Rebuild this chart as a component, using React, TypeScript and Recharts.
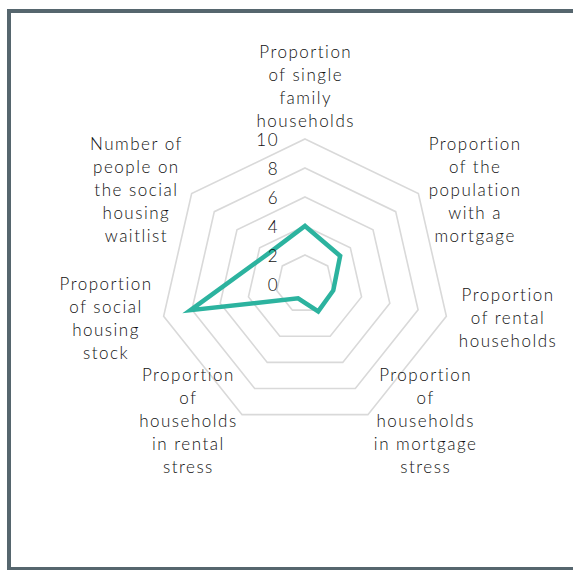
import React from 'react';
import { RadarChart, Radar, PolarGrid, PolarAngleAxis, PolarRadiusAxis } from 'recharts';

const categories = ['singleFamily', 'mortgage', 'rental', 'mortgageStress', 'rentalStress', 'socialStock', 'waitlist'];
const categoryLabels: string[][] = [
  ['Proportion', 'of single', 'family', 'households'],
  ['Proportion', 'of the', 'population', 'with a', 'mortgage'],
  ['Proportion', 'of rental', 'households'],
  ['Proportion', 'of', 'households', 'in mortgage', 'stress'],
  ['Proportion', 'of', 'households', 'in rental', 'stress'],
  ['Proportion', 'of social', 'housing', 'stock'],
  ['Number of', 'people on', 'the social', 'housing', 'waitlist'],
];
const values = [4, 3.1, 2, 2.1, 1.1, 8.1, 3.3];
const radiusTicks = [0, 2, 4, 6, 8, 10];

const data = categories.map((c, i) => ({ axis: c, value: values[i] }));

const W = 573;
const H = 570;
const CX = 305;
const CY = 284;
const R = 145;
const FONT_FAMILY = 'Lato, "Open Sans", sans-serif';
const FONT_WEIGHT = 300;
const FONT_SIZE = 17;
const LETTER_SPACING = 1.5;
const LINE_H = 23;
const TEXT_COLOR = '#111111';

let ctx: CanvasRenderingContext2D | null = null;
function measure(s: string): number {
  if (!ctx) ctx = document.createElement('canvas').getContext('2d');
  if (!ctx) return s.length * 9;
  ctx.font = `${FONT_WEIGHT} ${FONT_SIZE}px ${FONT_FAMILY}`;
  return ctx.measureText(s).width + LETTER_SPACING * s.length;
}

const AngleTick = (props: any) => {
  const { payload } = props;
  const idx = categories.indexOf(payload.value);
  const lines = categoryLabels[idx] || [];
  const a = (payload.coordinate * Math.PI) / 180;
  const rr = R + 12;
  const px = CX + rr * Math.cos(a);
  const py = CY - rr * Math.sin(a);
  const w = Math.max(...lines.map(measure));
  const c = Math.cos(a);
  const s = Math.sin(a);
  let centerX = px;
  if (c > 0.1) centerX = px + w / 2;
  else if (c < -0.1) centerX = px - w / 2;
  const n = lines.length;
  let firstY = py - ((n - 1) * LINE_H) / 2 + 5 * s;
  if (s > 0.9) firstY = py - 7 - (n - 1) * LINE_H;
  return (
    <text
      textAnchor="middle"
      fill={TEXT_COLOR}
      style={{ fontFamily: FONT_FAMILY, fontWeight: FONT_WEIGHT, fontSize: FONT_SIZE, letterSpacing: LETTER_SPACING }}
    >
      {lines.map((l, i) => (
        <tspan key={i} x={centerX + LETTER_SPACING / 2} y={firstY + i * LINE_H} dominantBaseline="central">
          {l}
        </tspan>
      ))}
    </text>
  );
};

const RadiusTick = (props: any) => {
  const { x, y, payload } = props;
  return (
    <text
      x={x - 26}
      y={y}
      textAnchor="end"
      dominantBaseline="central"
      fill={TEXT_COLOR}
      style={{ fontFamily: FONT_FAMILY, fontWeight: FONT_WEIGHT, fontSize: FONT_SIZE, letterSpacing: LETTER_SPACING }}
    >
      {payload.value}
    </text>
  );
};

export default function App() {
  return (
    <div>
      <style>{`html,body{margin:0;padding:0;overflow:hidden;}`}</style>
      <div
        style={{
          position: 'absolute',
          left: 7,
          top: 9,
          width: 600,
          height: 554,
          border: '4px solid #56666e',
        }}
      />
      <div style={{ position: 'absolute', left: 0, top: 0, width: W, height: H }}>
        <RadarChart width={W} height={H} data={data} cx={CX} cy={CY} outerRadius={R} margin={{ top: 0, right: 0, bottom: 0, left: 0 }}>
          <PolarGrid gridType="polygon" radialLines={false} stroke="#d9d9d9" strokeWidth={1.6} />
          <PolarAngleAxis dataKey="axis" tick={<AngleTick />} tickLine={false} axisLine={false} />
          <PolarRadiusAxis
            angle={90}
            domain={[0, 10]}
            ticks={radiusTicks as any}
            tickCount={6}
            axisLine={false}
            tickLine={false}
            tick={<RadiusTick />}
          />
          <Radar
            dataKey="value"
            stroke="#2cb39f"
            strokeWidth={4.5}
            strokeLinejoin="miter"
            fill="none"
            fillOpacity={0}
            dot={false}
            isAnimationActive={false}
          />
        </RadarChart>
      </div>
    </div>
  );
}
